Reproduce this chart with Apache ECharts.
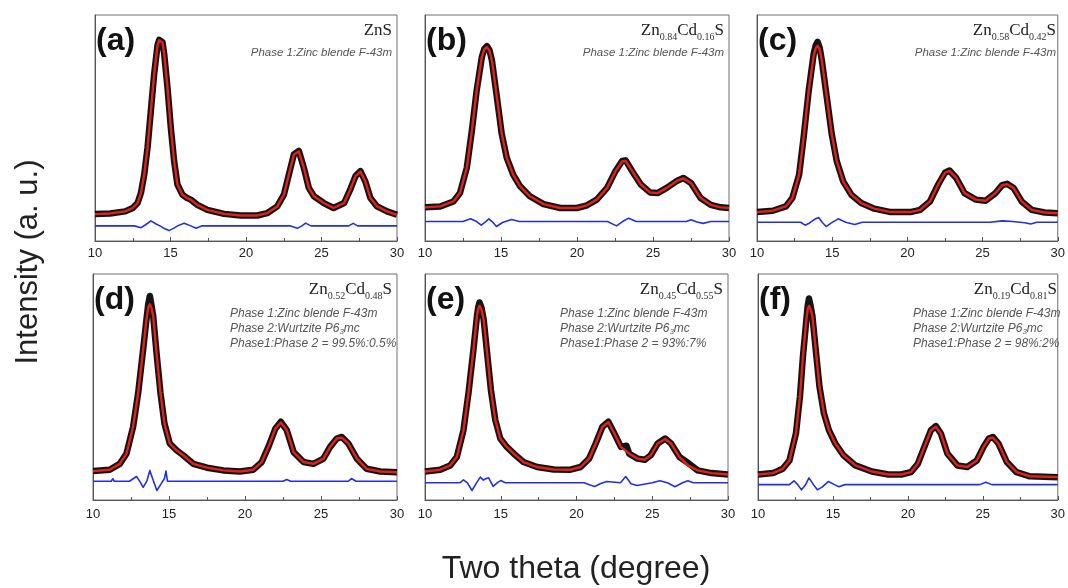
<!DOCTYPE html>
<html><head><meta charset="utf-8">
<script src="https://cdn.jsdelivr.net/npm/echarts@6/dist/echarts.min.js"></script>
<style>html,body{margin:0;padding:0;background:#fff}#c{width:1068px;height:588px}</style>
</head><body><div id="c"></div>
<script>
// ---------- axis definition ----------
const xMin = 10, xMax = 30, xInterval = 5;
const yMin = 0, yMax = 100;
const xTickLabels = ['10', '15', '20', '25', '30'];

// ---------- panel (a) ZnS ----------
const xA = [10, 11, 12, 12.5, 12.82, 13.04, 13.26, 13.48, 13.7, 13.92, 14.14, 14.25, 14.36, 14.47, 14.58, 14.8, 15.02, 15.24, 15.46, 15.79, 16.1, 16.34, 16.78, 17.44, 18.55, 19.65, 20.75, 21.4, 22.07, 22.51, 22.84, 23.17, 23.5, 23.83, 24.16, 24.5, 25.15, 25.8, 26.5, 26.9, 27.25, 27.58, 27.9, 28.24, 28.68, 29.34, 30];
const obsA = [11.9, 12.2, 13.1, 14.6, 16.8, 21.2, 29.4, 41.3, 57.7, 74, 86.6, 89.0, 89.6, 88.0, 82.9, 68, 50.2, 35.4, 25, 20.5, 19.0, 18.3, 16, 13.8, 12, 11.3, 11.3, 12.3, 15.3, 20.5, 29.4, 38.3, 39.8, 32.4, 23.5, 19.8, 16.8, 14.6, 16.8, 22.7, 28.7, 30.9, 26.4, 19, 15.3, 13.1, 11.6];
const calcA = [11.9, 12.2, 13.1, 14.6, 16.8, 21.2, 29.4, 41.3, 57.7, 74, 86.4, 88.8, 89.2, 87.8, 82.9, 68, 50.2, 35.4, 25, 20.5, 19.0, 18.3, 16, 13.8, 12, 11.3, 11.3, 12.3, 15.3, 20.5, 29.4, 38.3, 39.6, 32.4, 23.5, 19.8, 16.8, 14.6, 16.8, 22.7, 28.7, 30.7, 26.4, 19, 15.3, 13.1, 11.6];
const dxA = [10, 12.6, 13.05, 13.35, 13.7, 14.05, 14.3, 14.6, 14.9, 15.2, 15.5, 15.9, 16.3, 16.7, 17.1, 22.9, 23.4, 23.7, 23.95, 24.3, 26.8, 27.1, 27.4, 30];
const diffA = [6.7, 6.7, 5.9, 7.2, 8.9, 7.5, 6.7, 5.5, 4.6, 5.6, 6.8, 7.9, 6.8, 5.6, 6.7, 6.7, 5.6, 6.7, 7.9, 6.7, 6.7, 7.8, 6.7, 6.7];

// ---------- panel (b) Zn0.84Cd0.16S ----------
const xB = [10, 11, 11.87, 12.3, 12.75, 13.08, 13.4, 13.74, 13.9, 14.07, 14.24, 14.4, 14.73, 15.05, 15.38, 15.8, 16.26, 16.9, 17.8, 18.9, 20, 20.66, 21.3, 21.98, 22.53, 22.97, 23.2, 23.63, 24.2, 24.8, 25.3, 25.9, 26.6, 27.0, 27.5, 28.13, 28.8, 29.45, 30];
const obsB = [14.9, 15.3, 17.5, 21.2, 32.4, 48.7, 66.6, 81.4, 85.0, 86.2, 84.5, 80, 63.6, 47.3, 36.8, 29.4, 24.2, 19.8, 16.3, 14.6, 14.6, 15.8, 18.3, 23.5, 30.9, 35.4, 35.7, 30.9, 25, 21.5, 21.2, 23.5, 26.7, 27.9, 25.7, 19, 16, 14.9, 14.6];
const calcB = [14.9, 15.3, 17.5, 21.2, 32.4, 48.7, 66.6, 81.4, 84.8, 85.8, 84.2, 80, 63.6, 47.3, 36.8, 29.4, 24.2, 19.8, 16.3, 14.6, 14.6, 15.8, 18.3, 23.5, 30.9, 35.2, 35.4, 30.9, 25, 21.5, 21.2, 23.5, 26.7, 27.7, 25.7, 19, 16, 14.9, 14.6];
const dxB = [10, 12.5, 13.0, 13.4, 13.7, 14.0, 14.2, 14.45, 14.7, 15.1, 15.7, 16.2, 22.0, 22.6, 23.0, 23.4, 23.9, 27.2, 27.5, 27.9, 28.3, 28.8, 30];
const diffB = [8.6, 8.6, 9.8, 8.6, 7.0, 8.6, 9.8, 8.4, 6.4, 8.2, 9.5, 8.6, 8.6, 6.7, 8.6, 10.1, 8.6, 8.6, 9.4, 8.4, 7.8, 8.6, 8.6];

// ---------- panel (c) Zn0.58Cd0.42S ----------
const xC = [10, 11.05, 11.92, 12.35, 12.8, 13.1, 13.44, 13.77, 13.9, 14.03, 14.17, 14.31, 14.64, 14.97, 15.3, 15.73, 16.27, 16.93, 17.8, 18.9, 20.2, 20.85, 21.5, 22.05, 22.5, 22.8, 23.25, 23.8, 24.55, 25.2, 25.86, 26.3, 26.63, 27.06, 27.6, 28.26, 29.13, 30];
const obsC = [12.8, 13.4, 15.3, 19, 29.4, 45.8, 66.6, 82.9, 86.5, 88.1, 85.5, 80, 63.6, 47.3, 35.4, 26.4, 20.5, 16.8, 14.3, 12.8, 12.8, 13.8, 17.5, 25, 30.2, 31.2, 27.9, 21.2, 18.3, 17.8, 21.2, 24.7, 25.3, 23.5, 17.5, 13.8, 12.6, 12.3];
const calcC = [12.8, 13.4, 15.3, 19, 29.4, 45.8, 66.6, 82.0, 85.3, 86.4, 84.8, 80, 63.6, 47.3, 35.4, 26.4, 20.5, 16.8, 14.3, 12.8, 12.8, 13.8, 17.5, 25, 30.2, 31.0, 27.9, 21.2, 18.3, 17.8, 21.2, 24.7, 25.1, 23.5, 17.5, 13.8, 12.6, 12.3];
const dxC = [10, 12.9, 13.2, 13.5, 13.8, 14.1, 14.35, 14.6, 14.9, 15.4, 15.9, 16.5, 17.0, 25.5, 26.3, 27.0, 27.8, 28.2, 28.6, 30];
const diffC = [8.3, 8.3, 7.0, 8.0, 9.5, 10.4, 8.2, 6.4, 7.8, 9.8, 8.3, 7.3, 8.3, 8.3, 8.9, 8.6, 8.1, 7.5, 8.3, 8.3];

// ---------- panel (d) Zn0.52Cd0.48S ----------
const xD = [10, 11.1, 11.76, 12.2, 12.64, 12.97, 13.3, 13.52, 13.63, 13.74, 13.85, 13.96, 14.18, 14.44, 14.7, 15.05, 15.5, 15.93, 16.6, 17.5, 18.57, 19.67, 20.55, 21.1, 21.54, 22.0, 22.36, 22.75, 23.2, 23.85, 24.5, 25.16, 25.6, 26.04, 26.37, 26.8, 27.36, 28.0, 28.9, 30];
const obsD = [12.8, 13.4, 16, 20.5, 32.4, 47.3, 66.6, 80, 86.5, 90.3, 86.0, 81.4, 65, 47.3, 33.9, 25, 22, 19.8, 16, 14.3, 13.1, 12.6, 13.4, 16.8, 23.5, 31.6, 34.6, 30.9, 21.2, 16.8, 16, 18.3, 23.5, 27.2, 27.9, 25, 18.3, 13.8, 12.6, 12.3];
const calcD = [12.8, 13.4, 16, 20.5, 32.4, 47.3, 66.6, 80, 85.0, 86.6, 85.0, 81.4, 65, 47.3, 33.9, 25, 22, 19.8, 16, 14.3, 13.1, 12.6, 13.4, 16.8, 23.5, 31.6, 34.3, 30.9, 21.2, 16.8, 16, 18.3, 23.5, 27.2, 27.6, 25, 18.3, 13.8, 12.6, 12.3];
const dxD = [10, 11.2, 11.3, 11.4, 12.4, 12.86, 13.1, 13.3, 13.55, 13.74, 13.95, 14.2, 14.45, 14.7, 14.8, 14.9, 15.2, 16.8, 16.9, 17.0, 22.5, 22.75, 23.0, 26.8, 27.0, 27.3, 30];
const diffD = [8.3, 8.3, 9.4, 8.3, 8.3, 10.4, 8.0, 5.6, 8.5, 13.1, 9.0, 4.2, 6.8, 9.5, 12.8, 8.3, 8.3, 8.3, 9.0, 8.3, 8.3, 9.1, 8.3, 8.3, 9.5, 8.3, 8.3];

// ---------- panel (e) Zn0.45Cd0.55S ----------
const xE = [10, 11, 11.66, 12.1, 12.54, 12.87, 13.2, 13.43, 13.52, 13.6, 13.73, 13.87, 14.1, 14.35, 14.64, 14.97, 15.4, 15.86, 16.5, 17.4, 18.5, 19.6, 20.27, 20.83, 21.27, 21.71, 22.1, 22.5, 22.93, 23.3, 23.48, 24.03, 24.5, 24.9, 25.36, 25.85, 26.24, 26.8, 27.35, 28, 28.9, 30];
const obsE = [12.6, 13.4, 15.3, 19, 30.9, 47.3, 66.6, 81.4, 85.5, 87.4, 85.0, 80, 65, 48.7, 35.4, 27.2, 23.5, 20.5, 16.8, 14.6, 13.5, 13.4, 14.6, 18.3, 25, 32.4, 34.6, 29.4, 23.5, 24.0, 20.5, 18.3, 17.8, 19.8, 25, 27.2, 25, 19, 16.5, 13.1, 11.9, 11.3];
const calcE = [12.6, 13.4, 15.3, 19, 30.9, 47.3, 66.6, 81.4, 84.8, 85.9, 84.3, 80, 65, 48.7, 35.4, 27.2, 23.5, 20.5, 16.8, 14.6, 13.5, 13.4, 14.6, 18.3, 25, 32.4, 34.4, 29.4, 23.5, 21.5, 20.5, 18.3, 17.8, 19.8, 25, 27.0, 25, 19, 15.3, 13.1, 11.9, 11.3];
const dxE = [10, 12.3, 12.54, 12.8, 13.1, 13.4, 13.65, 13.85, 14.0, 14.1, 14.2, 14.5, 14.8, 15.0, 15.3, 20.5, 20.9, 21.2, 21.6, 22.0, 22.9, 23.25, 23.6, 24.0, 25.0, 25.5, 26.0, 26.5, 27.0, 27.35, 27.7, 30];
const diffE = [7.6, 7.6, 8.9, 7.6, 4.2, 7.6, 10.1, 8.8, 9.4, 8.8, 9.8, 6.0, 7.8, 8.6, 7.6, 7.6, 6.6, 6.0, 7.3, 8.2, 7.6, 10.4, 7.2, 6.4, 7.6, 8.5, 7.6, 5.9, 7.6, 8.5, 7.6, 7.6];

// ---------- panel (f) Zn0.19Cd0.81S ----------
const xF = [10, 11, 11.65, 12.1, 12.53, 12.8, 13.0, 13.23, 13.32, 13.4, 13.52, 13.63, 13.85, 14.1, 14.4, 14.73, 15.16, 15.7, 16.5, 17.6, 18.7, 19.56, 20.2, 20.66, 21.1, 21.54, 21.87, 22.2, 22.64, 23.3, 23.96, 24.6, 25.05, 25.4, 25.67, 26.04, 26.6, 27.25, 28.13, 30];
const obsF = [11.3, 11.9, 13.8, 17.5, 29.4, 45.8, 63.6, 80, 86.0, 89.2, 85.5, 81.4, 66.6, 50.2, 38.3, 30.9, 25, 19.8, 15.3, 12.6, 11.3, 11.3, 12.3, 16, 23.5, 30.9, 32.7, 29.4, 20.5, 15.3, 14.6, 17.5, 23.5, 27.2, 27.9, 25, 16.8, 12.3, 10.5, 10.1];
const calcF = [11.3, 11.9, 13.8, 17.5, 29.4, 45.8, 63.6, 80, 84.5, 85.9, 84.3, 81.4, 66.6, 50.2, 38.3, 30.9, 25, 19.8, 15.3, 12.6, 11.3, 11.3, 12.3, 16, 23.5, 30.9, 32.4, 29.4, 20.5, 15.3, 14.6, 17.5, 23.5, 27.2, 27.6, 25, 16.8, 12.3, 10.5, 10.1];
const dxF = [10, 12.1, 12.4, 12.65, 12.9, 13.15, 13.4, 13.7, 13.96, 14.3, 14.7, 15.1, 15.4, 15.8, 24.8, 25.2, 25.6, 30];
const diffF = [6.8, 6.8, 8.5, 6.8, 4.5, 6.5, 9.8, 6.8, 4.5, 5.8, 8.2, 6.8, 5.9, 6.8, 6.8, 7.9, 6.8, 6.8];

// ---------- texts ----------
const panelLabels = ['(a)', '(b)', '(c)', '(d)', '(e)', '(f)'];
const formulas = [null, ['0.84', '0.16'], ['0.58', '0.42'], ['0.52', '0.48'], ['0.45', '0.55'], ['0.19', '0.81']];
const phase1 = 'Phase 1:Zinc blende F-43m';
const phase2 = ['Phase 2:Wurtzite P6', '3', 'mc'];
const ratios = [null, null, null, 'Phase1:Phase 2 = 99.5%:0.5%', 'Phase1:Phase 2 = 93%:7%', 'Phase1:Phase 2 = 98%:2%'];
const yTitle = 'Intensity (a. u.)';
const xTitle = 'Two theta (degree)';

// ---------- assemble ----------
const zip = (xs, ys) => xs.map((x, i) => [x, ys[i]]);
const panels = [
  [xA, obsA, calcA, dxA, diffA], [xB, obsB, calcB, dxB, diffB], [xC, obsC, calcC, dxC, diffC],
  [xD, obsD, calcD, dxD, diffD], [xE, obsE, calcE, dxE, diffE], [xF, obsF, calcF, dxF, diffF]
];

const L = [
  {left: 95, top: 15, width: 302}, {left: 425, top: 15, width: 304}, {left: 757, top: 15, width: 304},
  {left: 93, top: 274, width: 304}, {left: 425, top: 274, width: 303}, {left: 758, top: 274, width: 304}
];
const H = 226;

const grids = [], xAxes = [], yAxes = [], series = [], titles = [];
const sans = 'Liberation Sans, Arial, sans-serif';
const serif = 'Liberation Serif, Times New Roman, serif';

panels.forEach((p, i) => {
  const g = L[i];
  grids.push({left: g.left, top: g.top, width: g.width, height: H, show: true, borderColor: '#6e6e6e', borderWidth: 1});
  xAxes.push({
    type: 'value', gridIndex: i, min: xMin, max: xMax, interval: xInterval,
    axisLine: {lineStyle: {color: '#555', width: 1}},
    axisTick: {inside: true, length: 4, lineStyle: {color: '#555'}},
    minorTick: {show: true, splitNumber: 2, length: 3, lineStyle: {color: '#555'}},
    splitLine: {show: false},
    axisLabel: {color: '#222', fontSize: 13, fontFamily: sans, margin: i < 3 ? 6 : 8,
      formatter: v => xTickLabels[Math.round((v - xMin) / xInterval)]}
  });
  yAxes.push({type: 'value', gridIndex: i, min: yMin, max: yMax,
    axisLine: {show: true, lineStyle: {color: '#555'}}, axisTick: {show: false},
    axisLabel: {show: false}, splitLine: {show: false}});
  series.push({type: 'line', xAxisIndex: i, yAxisIndex: i, data: zip(p[0], p[1]), showSymbol: false,
    smooth: false, lineStyle: {color: '#141414', width: 6.5, join: 'round'}, z: 2, silent: true});
  series.push({type: 'line', xAxisIndex: i, yAxisIndex: i, data: zip(p[0], p[2]), showSymbol: false,
    smooth: false, lineStyle: {color: '#e3201b', width: 2.4, join: 'round'}, z: 3, silent: true});
  series.push({type: 'line', xAxisIndex: i, yAxisIndex: i, data: zip(p[3], p[4]), showSymbol: false,
    smooth: false, lineStyle: {color: '#2231e0', width: 1.6, join: 'round'}, z: 2, silent: true});

  titles.push({text: panelLabels[i], left: g.left + 1, top: g.top + 8, padding: 0,
    textStyle: {fontFamily: sans, fontWeight: 'bold', fontSize: 32, color: '#111', lineHeight: 36}});
  const right = 1068 - (g.left + g.width - 5);
  const f = formulas[i];
  const ftext = f ? `{m|Zn}{s|${f[0]}}{m|Cd}{s|${f[1]}}{m|S}` : '{m|ZnS}';
  titles.push({text: ftext, right: right, top: g.top + 5, padding: 0,
    textStyle: {fontWeight: 'normal', rich: {
      m: {fontFamily: serif, fontWeight: 'normal', fontSize: 17, color: '#222', lineHeight: 22},
      s: {fontFamily: serif, fontWeight: 'normal', fontSize: 10, color: '#333', lineHeight: 8, verticalAlign: 'bottom'}
    }}});
  if (i < 3) {
    titles.push({text: phase1, right: right, top: g.top + 31, padding: 0,
      textStyle: {fontFamily: sans, fontStyle: 'italic', fontWeight: 'normal', fontSize: 11.5, color: '#555', lineHeight: 14}});
  } else {
    const lefts = [230, 560, 913];
    titles.push({
      text: `{p|${phase1}}\n{p|${phase2[0]}}{q|${phase2[1]}}{p|${phase2[2]}}\n{p|${ratios[i]}}`,
      left: lefts[i - 3], top: g.top + 32, padding: 0,
      textStyle: {fontWeight: 'normal', rich: {
        p: {fontFamily: sans, fontStyle: 'italic', fontWeight: 'normal', fontSize: 12, color: '#555', lineHeight: 15},
        q: {fontFamily: sans, fontStyle: 'italic', fontWeight: 'normal', fontSize: 8, color: '#555', lineHeight: 6, verticalAlign: 'bottom'}
      }}});
  }
});

const chart = echarts.init(document.getElementById('c'), null, {renderer: 'canvas'});
chart.setOption({
  animation: false,
  backgroundColor: '#fff',
  title: titles,
  grid: grids, xAxis: xAxes, yAxis: yAxes, series: series,
  graphic: [
    {type: 'text', x: 28, y: 262, rotation: Math.PI / 2,
      style: {text: yTitle, fontFamily: sans, fontSize: 31, fill: '#222', align: 'center', verticalAlign: 'middle'}},
    {type: 'text', x: 576, y: 569,
      style: {text: xTitle, fontFamily: sans, fontSize: 32, fill: '#222', align: 'center', verticalAlign: 'middle'}}
  ]
});
</script></body></html>
